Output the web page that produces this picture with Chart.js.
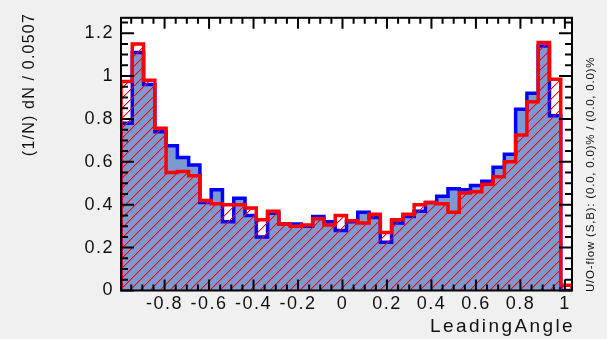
<!DOCTYPE html>
<html>
<head>
<meta charset="utf-8">
<script src="https://cdn.jsdelivr.net/npm/chart.js@4.4.1/dist/chart.umd.min.js"></script>
<style>
  html, body { margin: 0; padding: 0; background: #f0f0f0; }
  canvas { display: block; }
</style>
</head>
<body>
<canvas id="c" width="607" height="339"></canvas>
<script>
// LeadingAngle, normalised per bin: 40 bins of width 0.0507
const binLow = -0.996;
const binWidth = 0.0507;

// signal (filled blue) and background (red hatched), one value per bin
const signal = [
  0.78, 1.11, 0.96, 0.74, 0.675, 0.62, 0.585, 0.41, 0.47, 0.32,
  0.43, 0.35, 0.25, 0.36, 0.31, 0.31, 0.30, 0.345, 0.32, 0.28,
  0.32, 0.365, 0.34, 0.225, 0.315, 0.345, 0.37, 0.41, 0.44, 0.475,
  0.47, 0.49, 0.51, 0.575, 0.635, 0.845, 0.92, 1.14, 0.815, 0
];
const background = [
  0.975, 1.15, 0.98, 0.757, 0.55, 0.555, 0.535, 0.42, 0.405, 0.40,
  0.40, 0.385, 0.33, 0.37, 0.31, 0.30, 0.305, 0.335, 0.305, 0.35,
  0.325, 0.315, 0.355, 0.27, 0.33, 0.355, 0.40, 0.41, 0.405, 0.365,
  0.455, 0.46, 0.495, 0.53, 0.60, 0.725, 0.88, 1.156, 0.985, 0.025
];

const xTickLabels = [-0.8, -0.6, -0.4, -0.2, 0, 0.2, 0.4, 0.6, 0.8, 1];
const yTickLabels = [0, 0.2, 0.4, 0.6, 0.8, 1, 1.2];
const xTitle = 'LeadingAngle';
const yTitle = '(1/N) dN / 0.0507';
const flowNote = 'U/O-flow (S,B): (0.0, 0.0)% / (0.0, 0.0)%';

const nBins = signal.length;
const binHigh = binLow + nBins * binWidth;
const yMax = 1.1 * Math.max(...signal, ...background);
const minorStep = 0.05;
const FONT = '"Liberation Sans", Arial, Helvetica, sans-serif';

// histogram outline as a step path: up from zero, across each bin, back down
function stepPoints(values) {
  const pts = [{ x: binLow, y: 0 }];
  values.forEach((v, i) => pts.push({ x: binLow + i * binWidth, y: v }));
  pts.push({ x: binHigh, y: values[values.length - 1] });
  pts.push({ x: binHigh, y: 0 });
  return pts;
}

// crisp "/" hatching tile for the background histogram
function hatch(color, gap) {
  const t = document.createElement('canvas');
  t.width = gap; t.height = gap;
  const g = t.getContext('2d');
  g.fillStyle = color;
  for (let i = 0; i < gap; i++) {
    g.fillRect(i, gap - 1 - i, 1, 1);
  }
  g.globalAlpha = 0.35;
  for (let i = 0; i < gap; i++) {
    g.fillRect((i + 1) % gap, gap - 1 - i, 1, 1);
  }
  return g.createPattern(t, 'repeat');
}

function fmt(v) {
  return String(Number(Number(v).toFixed(1)));
}

function multiples(lo, hi, step) {
  const out = [];
  for (let k = Math.ceil(lo / step - 1e-6); k * step <= hi + 1e-9; k++) out.push(k * step);
  return out;
}

const paintBackground = {
  id: 'paintBackground',
  beforeDraw(chart) {
    const { ctx, chartArea: a } = chart;
    ctx.save();
    ctx.fillStyle = '#f0f0f0';
    ctx.fillRect(0, 0, chart.width, chart.height);
    ctx.fillStyle = '#ffffff';
    ctx.fillRect(a.left, a.top, a.right - a.left, a.bottom - a.top);
    ctx.restore();
    ctx.letterSpacing = '1.5px';
  }
};

// frame with inward ticks on all four sides
const frameTicks = {
  id: 'frameTicks',
  afterDatasetsDraw(chart) {
    const { ctx, chartArea: a, scales: { x, y } } = chart;
    ctx.save();
    ctx.strokeStyle = '#000';
    ctx.lineWidth = 2;
    ctx.beginPath();
    multiples(binLow, binHigh, minorStep).forEach(v => {
      const major = Math.abs(v / 0.2 - Math.round(v / 0.2)) < 1e-6;
      const len = major ? 11 : 6;
      const px = x.getPixelForValue(v);
      ctx.moveTo(px, a.bottom); ctx.lineTo(px, a.bottom - len);
      ctx.moveTo(px, a.top); ctx.lineTo(px, a.top + len);
    });
    multiples(0, yMax, minorStep).forEach(v => {
      const major = Math.abs(v / 0.2 - Math.round(v / 0.2)) < 1e-6;
      const len = major ? 13 : 7;
      const py = y.getPixelForValue(v);
      ctx.moveTo(a.left, py); ctx.lineTo(a.left + len, py);
      ctx.moveTo(a.right, py); ctx.lineTo(a.right - len, py);
    });
    ctx.stroke();
    ctx.strokeRect(a.left, a.top, a.right - a.left, a.bottom - a.top);
    ctx.restore();
  }
};

const titles = {
  id: 'titles',
  afterDraw(chart) {
    const { ctx, chartArea: a } = chart;
    ctx.save();
    ctx.fillStyle = '#111';

    ctx.font = '19px ' + FONT;
    ctx.letterSpacing = '2.4px';
    ctx.textAlign = 'right';
    ctx.textBaseline = 'alphabetic';
    ctx.fillText(xTitle, a.right + 3, 332);

    ctx.save();
    ctx.font = '16px ' + FONT;
    ctx.letterSpacing = '1.2px';
    ctx.translate(30, 13);
    ctx.rotate(-Math.PI / 2);
    ctx.textAlign = 'right';
    ctx.textBaseline = 'middle';
    ctx.fillText(yTitle, 0, 0);
    ctx.restore();

    ctx.save();
    ctx.font = '11.5px ' + FONT;
    ctx.letterSpacing = '0.8px';
    ctx.translate(591, 292);
    ctx.rotate(-Math.PI / 2);
    ctx.textAlign = 'left';
    ctx.textBaseline = 'middle';
    ctx.fillText(flowNote, 0, 0);
    ctx.restore();

    ctx.restore();
  }
};

new Chart(document.getElementById('c'), {
  type: 'line',
  data: {
    datasets: [
      {
        label: 'Background',
        data: stepPoints(background),
        stepped: true,
        borderColor: '#ff0000',
        borderWidth: 3.5,
        borderJoinStyle: 'miter',
        backgroundColor: hatch('#ff0000', 10),
        fill: 'origin',
        pointRadius: 0
      },
      {
        label: 'Signal',
        data: stepPoints(signal),
        stepped: true,
        borderColor: '#0000ff',
        borderWidth: 3.5,
        borderJoinStyle: 'miter',
        backgroundColor: '#7d99d1',
        fill: 'origin',
        pointRadius: 0
      }
    ]
  },
  options: {
    responsive: false,
    animation: false,
    events: [],
    layout: { padding: { left: 0, right: 35, top: 6.5, bottom: 0 } },
    plugins: { legend: { display: false }, tooltip: { enabled: false } },
    scales: {
      x: {
        type: 'linear',
        min: binLow,
        max: binHigh,
        grid: { display: false, drawTicks: false },
        border: { display: false },
        afterBuildTicks: s => { s.ticks = xTickLabels.map(v => ({ value: v })); },
        afterFit: s => { s.height = 48.5; },
        ticks: {
          autoSkip: false, maxRotation: 0, minRotation: 0, padding: 3,
          color: '#111', font: { family: FONT, size: 18 },
          callback: v => fmt(v)
        }
      },
      y: {
        type: 'linear',
        min: 0,
        max: yMax,
        grid: { display: false, drawTicks: false },
        border: { display: false },
        afterBuildTicks: s => { s.ticks = yTickLabels.map(v => ({ value: v })); },
        afterFit: s => { s.width = 121; },
        ticks: {
          padding: 7,
          color: '#111', font: { family: FONT, size: 18 },
          callback: v => fmt(v)
        }
      }
    }
  },
  plugins: [paintBackground, frameTicks, titles]
});
</script>
</body>
</html>
